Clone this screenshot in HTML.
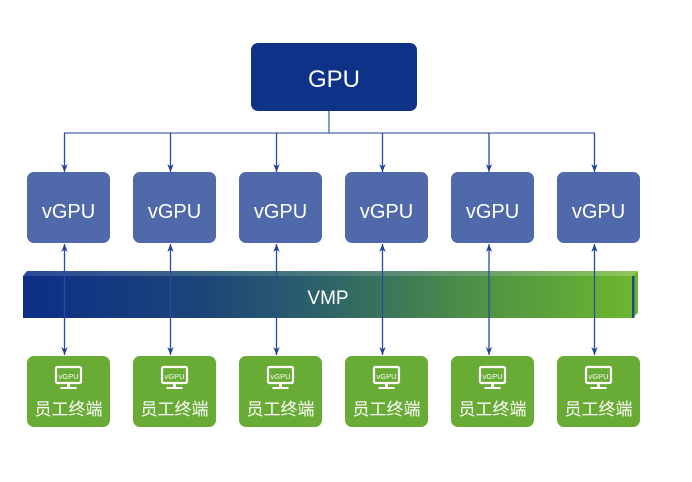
<!DOCTYPE html>
<html><head><meta charset="utf-8"><style>
html,body{margin:0;padding:0;background:#fff;}
svg{display:block;}
text{font-family:"Liberation Sans","Noto Sans CJK SC",sans-serif;fill:#fff;}
</style></head><body>
<svg width="692" height="482" viewBox="0 0 692 482" xmlns="http://www.w3.org/2000/svg">
<defs>
<linearGradient id="g" x1="0" x2="1" y1="0" y2="0">
<stop offset="0" stop-color="#0d2e87"/>
<stop offset="0.3" stop-color="#1d4578"/>
<stop offset="0.5" stop-color="#2e6468"/>
<stop offset="0.75" stop-color="#4f9245"/>
<stop offset="1" stop-color="#6cb62e"/>
</linearGradient>
<linearGradient id="g2" x1="0" x2="1" y1="0" y2="0">
<stop offset="0" stop-color="#2a4a9a"/>
<stop offset="0.5" stop-color="#4a7a7a"/>
<stop offset="1" stop-color="#8cc85a"/>
</linearGradient>
<marker id="a" viewBox="0 0 10 10" refX="10" refY="5" markerWidth="8" markerHeight="8" orient="auto-start-reverse" markerUnits="userSpaceOnUse">
<path d="M0,1 L10,5 L0,9 L3,5 z" fill="#1f3f9c"/>
</marker>
<g id="icon">
<rect x="29" y="367" width="25" height="16" rx="1.5" fill="none" stroke="#fff" stroke-width="2.2"/>
<rect x="40" y="383" width="3" height="4" fill="#fff"/><rect x="33.5" y="387" width="16" height="2" fill="#fff"/>
</g>
</defs>
<rect x="251" y="43" width="166" height="68" rx="7" fill="#0f3289"/>
<text x="334" y="87" font-size="24" text-anchor="middle">GPU</text>
<g stroke="#4b66b0" stroke-width="1.3" fill="none">
<line x1="329" y1="111" x2="329" y2="133"/>
<line x1="64" y1="133" x2="595" y2="133"/>
</g>
<polygon points="23,276 27,271 638,271 632,276" fill="url(#g2)"/>
<rect x="23" y="276" width="610" height="42" fill="url(#g)"/>
<polygon points="632,276 638,271 638,313 632,318" fill="#6cb62e"/>
<rect x="632" y="276" width="2.5" height="42" fill="#1f4a8a"/>
<text x="328" y="304" font-size="19" text-anchor="middle">VMP</text>

<g transform="translate(27,0)">
<line x1="37.5" y1="133" x2="37.5" y2="172" stroke="#2a4aa6" stroke-width="1.3" marker-end="url(#a)"/>
<rect x="0" y="172" width="83" height="71" rx="7" fill="#5069aa"/>
<text x="41.5" y="218" font-size="20" text-anchor="middle">vGPU</text>
<line x1="37.5" y1="244" x2="37.5" y2="355" stroke="#2a4aa6" stroke-width="1.3" marker-start="url(#a)" marker-end="url(#a)"/>
<rect x="0" y="356" width="83" height="71" rx="7" fill="#68ab35"/>
<use href="#icon"/><text x="41.5" y="379" font-size="7.5" text-anchor="middle">vGPU</text>
<text x="41.5" y="415" font-size="17" text-anchor="middle">员工终端</text>
</g>
<g transform="translate(133,0)">
<line x1="37.5" y1="133" x2="37.5" y2="172" stroke="#2a4aa6" stroke-width="1.3" marker-end="url(#a)"/>
<rect x="0" y="172" width="83" height="71" rx="7" fill="#5069aa"/>
<text x="41.5" y="218" font-size="20" text-anchor="middle">vGPU</text>
<line x1="37.5" y1="244" x2="37.5" y2="355" stroke="#2a4aa6" stroke-width="1.3" marker-start="url(#a)" marker-end="url(#a)"/>
<rect x="0" y="356" width="83" height="71" rx="7" fill="#68ab35"/>
<use href="#icon"/><text x="41.5" y="379" font-size="7.5" text-anchor="middle">vGPU</text>
<text x="41.5" y="415" font-size="17" text-anchor="middle">员工终端</text>
</g>
<g transform="translate(239,0)">
<line x1="37.5" y1="133" x2="37.5" y2="172" stroke="#2a4aa6" stroke-width="1.3" marker-end="url(#a)"/>
<rect x="0" y="172" width="83" height="71" rx="7" fill="#5069aa"/>
<text x="41.5" y="218" font-size="20" text-anchor="middle">vGPU</text>
<line x1="37.5" y1="244" x2="37.5" y2="355" stroke="#2a4aa6" stroke-width="1.3" marker-start="url(#a)" marker-end="url(#a)"/>
<rect x="0" y="356" width="83" height="71" rx="7" fill="#68ab35"/>
<use href="#icon"/><text x="41.5" y="379" font-size="7.5" text-anchor="middle">vGPU</text>
<text x="41.5" y="415" font-size="17" text-anchor="middle">员工终端</text>
</g>
<g transform="translate(345,0)">
<line x1="37.5" y1="133" x2="37.5" y2="172" stroke="#2a4aa6" stroke-width="1.3" marker-end="url(#a)"/>
<rect x="0" y="172" width="83" height="71" rx="7" fill="#5069aa"/>
<text x="41.5" y="218" font-size="20" text-anchor="middle">vGPU</text>
<line x1="37.5" y1="244" x2="37.5" y2="355" stroke="#2a4aa6" stroke-width="1.3" marker-start="url(#a)" marker-end="url(#a)"/>
<rect x="0" y="356" width="83" height="71" rx="7" fill="#68ab35"/>
<use href="#icon"/><text x="41.5" y="379" font-size="7.5" text-anchor="middle">vGPU</text>
<text x="41.5" y="415" font-size="17" text-anchor="middle">员工终端</text>
</g>
<g transform="translate(451,0)">
<line x1="38" y1="133" x2="38" y2="172" stroke="#2a4aa6" stroke-width="1.3" marker-end="url(#a)"/>
<rect x="0" y="172" width="83" height="71" rx="7" fill="#5069aa"/>
<text x="41.5" y="218" font-size="20" text-anchor="middle">vGPU</text>
<line x1="38" y1="244" x2="38" y2="355" stroke="#2a4aa6" stroke-width="1.3" marker-start="url(#a)" marker-end="url(#a)"/>
<rect x="0" y="356" width="83" height="71" rx="7" fill="#68ab35"/>
<use href="#icon"/><text x="41.5" y="379" font-size="7.5" text-anchor="middle">vGPU</text>
<text x="41.5" y="415" font-size="17" text-anchor="middle">员工终端</text>
</g>
<g transform="translate(557,0)">
<line x1="37.5" y1="133" x2="37.5" y2="172" stroke="#2a4aa6" stroke-width="1.3" marker-end="url(#a)"/>
<rect x="0" y="172" width="83" height="71" rx="7" fill="#5069aa"/>
<text x="41.5" y="218" font-size="20" text-anchor="middle">vGPU</text>
<line x1="37.5" y1="244" x2="37.5" y2="355" stroke="#2a4aa6" stroke-width="1.3" marker-start="url(#a)" marker-end="url(#a)"/>
<rect x="0" y="356" width="83" height="71" rx="7" fill="#68ab35"/>
<use href="#icon"/><text x="41.5" y="379" font-size="7.5" text-anchor="middle">vGPU</text>
<text x="41.5" y="415" font-size="17" text-anchor="middle">员工终端</text>
</g>
</svg>
</body></html>
